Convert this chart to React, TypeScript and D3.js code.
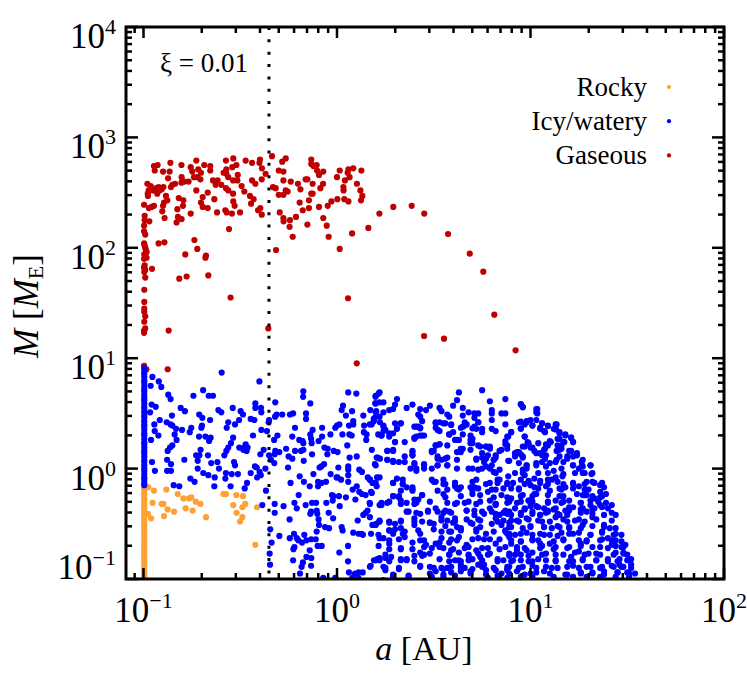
import React from "react";
import * as d3 from "d3";

const WIDTH = 747;
const HEIGHT = 679;
const margin = { top: 27, right: 23, bottom: 100, left: 126 };

// all points as [log10 a (AU), log10 M (Earth masses)]
const gaseous: [number, number][] = [
  [-0.946,2.74],[-0.927,2.75],[-0.942,2.70],[-0.899,2.69],[-0.861,2.77],[-0.865,2.69],[-0.873,2.63],[-0.804,2.75],[-0.756,2.73],[-0.727,2.79],
  [-0.686,2.75],[-0.655,2.74],[-0.655,2.70],[-0.748,2.69],[-0.717,2.71],[-0.703,2.68],[-0.739,2.64],[-0.720,2.64],[-0.706,2.62],[-0.803,2.64],
  [-0.804,2.59],[-0.767,2.60],[-0.789,2.60],[-0.837,2.58],[-0.851,2.57],[-0.858,2.55],[-0.897,2.55],[-0.922,2.55],[-0.906,2.53],[-0.935,2.54],
  [-0.963,2.56],[-0.980,2.58],[-0.973,2.52],[-0.978,2.49],[-0.951,2.52],[-0.929,2.49],[-0.918,2.52],[-0.884,2.47],[-0.877,2.43],[-0.894,2.41],
  [-0.899,2.38],[-0.903,2.33],[-0.891,2.27],[-0.946,2.38],[-0.958,2.37],[-0.972,2.36],[-0.977,2.47],[-0.997,2.39],[-0.994,2.29],[-0.970,2.24],
  [-0.994,2.25],[-0.997,2.20],[-0.997,2.15],[-0.991,2.12],[-0.818,2.45],[-0.794,2.43],[-0.796,2.38],[-0.825,2.35],[-0.822,2.28],[-0.829,2.23],
  [-0.803,2.26],[-0.756,2.31],[-0.727,2.52],[-0.668,2.50],[-0.694,2.46],[-0.703,2.41],[-0.694,2.37],[-0.668,2.36],[-0.634,2.44],[-0.620,2.32],
  [-0.641,2.61],[-0.617,2.61],[-0.627,2.57],[-0.598,2.57],[-0.574,2.54],[-0.562,2.52],[-0.537,2.49],[-0.536,2.42],[-0.529,2.38],[-0.577,2.34],
  [-0.570,2.32],[-0.543,2.31],[-0.501,2.32],[-0.558,2.17],[-0.574,2.79],[-0.536,2.81],[-0.520,2.75],[-0.541,2.73],[-0.572,2.71],[-0.586,2.68],
  [-0.572,2.67],[-0.562,2.64],[-0.537,2.61],[-0.513,2.66],[-0.515,2.61],[-0.493,2.56],[-0.479,2.51],[-0.472,2.79],[-0.439,2.77],[-0.398,2.80],
  [-0.401,2.77],[-0.388,2.72],[-0.369,2.67],[-0.389,2.62],[-0.439,2.61],[-0.422,2.58],[-0.450,2.47],[-0.431,2.44],[-0.444,2.40],[-0.396,2.36],
  [-0.408,2.34],[-0.389,2.30],[-0.336,2.83],[-0.265,2.81],[-0.283,2.78],[-0.301,2.70],[-0.277,2.69],[-0.277,2.61],[-0.239,2.60],[-0.331,2.55],
  [-0.317,2.54],[-0.301,2.48],[-0.277,2.48],[-0.265,2.52],[-0.255,2.51],[-0.296,2.32],[-0.277,2.27],[-0.276,2.24],[-0.243,2.25],[-0.212,2.28],
  [-0.245,2.19],[-0.229,2.10],[-0.193,2.41],[-0.177,2.34],[-0.202,2.58],[-0.189,2.53],[-0.162,2.62],[-0.153,2.62],[-0.133,2.80],[-0.133,2.76],
  [-0.105,2.75],[-0.122,2.74],[-0.103,2.70],[-0.093,2.66],[-0.071,2.69],[-0.126,2.58],[-0.086,2.54],[-0.072,2.58],[-0.133,2.49],[-0.126,2.49],
  [-0.145,2.43],[-0.145,2.36],[-0.093,2.37],[-0.071,2.27],[-0.053,2.20],[-0.043,2.10],[-0.153,2.21],[-0.029,2.42],[-0.048,2.38],[0.002,2.44],
  [0.038,2.44],[0.059,2.42],[0.014,2.70],[0,2.64],[0.041,2.61],[0.065,2.64],[0.059,2.71],[0.055,2.68],[0.084,2.72],[0.126,2.70],[0.103,2.58],
  [0.121,2.52],[0.131,2.47],[0.124,2.43],[0.033,2.55],[0.034,2.52],[0.078,2.13],[0.162,2.18],[0.014,1.99],[0.219,2.31],[0.291,2.37],[0.386,2.38],
  [0.451,2.31],[0.574,2.125],[0.686,1.947],[0.756,1.784],[0.813,1.394],[0.450,1.201],[0.553,1.177],[0.923,1.071],[0.102,0.954],[0.057,1.543],
  [-0.315,1.98],[-0.922,2.04],[-0.892,2.05],[-0.737,2.07],[-0.722,1.99],[-0.784,1.94],[-0.677,1.93],[-0.680,1.91],[-0.665,1.75],[-0.777,1.74],
  [-0.815,1.72],[-0.550,1.55],[-0.870,1.25],[-0.355,1.27],[-0.875,0.90],[-0.956,1.81],
  [-0.997,2.04],[-0.994,2.02],[-0.991,2.00],[-0.988,1.98],[-0.984,1.96],[-0.996,1.94],[-0.984,1.91],[-0.997,1.90],[-0.994,1.84],[-0.997,1.82],
  [-0.991,1.80],[-0.996,1.78],[-0.991,1.73],[-0.996,1.62],[-0.996,1.51],[-0.996,1.45],[-0.996,1.42],[-0.991,1.38],[-0.996,1.33],[-0.991,1.27],
  [-0.997,1.25],[-0.997,1.23],[-0.997,0.93],[-0.985,0.90],
];

const rocky: [number, number][] = [
  [-0.975,-0.17],[-0.946,-0.20],[-0.882,-0.19],[-0.823,-0.23],[-0.794,-0.27],[-0.765,-0.27],[-0.753,-0.26],[-0.730,-0.30],[-0.706,-0.32],
  [-0.587,-0.23],[-0.574,-0.23],[-0.520,-0.24],[-0.486,-0.25],[-0.536,-0.33],[-0.474,-0.32],[-0.489,-0.35],[-0.413,-0.35],[-0.519,-0.40],
  [-0.489,-0.44],[-0.501,-0.48],[-0.422,-0.69],[-0.953,-0.31],[-0.906,-0.32],[-0.897,-0.32],[-0.875,-0.37],[-0.842,-0.39],[-0.782,-0.36],
  [-0.746,-0.38],[-0.894,-0.43],[-0.677,-0.44],[-0.961,-0.45],[-0.977,-0.41],
];

// the pile-up at the inner edge, a = 0.1 AU
const rockyEdge = [-0.17,-0.19,-0.22,-0.24,-0.27,-0.29,-0.32,-0.35,-0.37,-0.40,-0.43,-0.45,-0.48,-0.51,-0.53,-0.56,-0.59,-0.61,-0.64,-0.67,-0.70,-0.72,-0.75,-0.78,-0.81,-0.83,-0.86,-0.89,-0.92,-0.94,-0.97,-0.99,-1.02];
const icyEdge = [0.91,0.88,0.86,0.83,0.80,0.78,0.75,0.72,0.70,0.67,0.64,0.62,0.59,0.56,0.54,0.51,0.48,0.46,0.43,0.40,0.38,0.35,0.32,0.30,0.27,0.24,0.22,0.19,0.16,0.14,0.11,0.08,0.06,0.03,0.0,-0.02,-0.05,-0.08,-0.10,-0.13,-0.15];

const icy: [number, number][] = [
  [-0.954,0.83],[-0.921,0.79],[-0.908,0.74],[-0.963,0.75],[-0.872,0.67],[-0.860,0.63],[-0.596,0.87],[-0.401,0.79],[-0.692,0.71],[-0.742,0.66],[-0.663,0.66],[-0.641,0.66],
  [-0.174,0.70],[-0.175,0.65],[0.058,0.69],[0.100,0.68],[-0.319,0.60],[-0.422,0.59],[-0.422,0.55],[-0.138,0.59],[0.031,0.57],[0.024,0.53],[0.078,0.52],[0.172,0.53],[0.199,0.65],[0.198,0.59],[0.215,0.68],
  [-0.958,0.58],[-0.937,0.56],[-0.966,0.51],[-0.808,0.55],[-0.786,0.52],[-0.853,0.48],[-0.712,0.49],[-0.696,0.46],[-0.613,0.53],[-0.598,0.51],[-0.539,0.55],[-0.498,0.52],[-0.486,0.49],[-0.506,0.44],[-0.446,0.45],[-0.427,0.44],
  [-0.393,0.55],[-0.391,0.51],[-0.312,0.49],[-0.320,0.47],[-0.283,0.49],[-0.243,0.49],[-0.227,0.50],[-0.160,0.50],[0.046,0.48],[0.136,0.48],[0.084,0.43],[0.084,0.40],[0.195,0.46],[0.203,0.52],
  [-0.916,0.44],[-0.944,0.40],[-0.880,0.42],[-0.860,0.40],[-0.851,0.39],[-0.656,0.44],[-0.562,0.42],[-0.527,0.40],[-0.570,0.37],[-0.698,0.39],[-0.701,0.37],[-0.753,0.37],[-0.761,0.33],[-0.832,0.36],[-0.801,0.35],[-0.839,0.31],
  [-0.351,0.44],[-0.353,0.42],[-0.391,0.35],[-0.362,0.34],[-0.217,0.37],[-0.160,0.45],[-0.077,0.37],[-0.126,0.35],[-0.138,0.31],[-0.009,0.37],[0.012,0.40],[0,0.39],[0.062,0.39],[0.140,0.39],[0.179,0.40],[0.222,0.42],[0.139,0.33],[0.153,0.31],[0.064,0.31],
  [-0.923,0.30],[-0.942,0.34],[-0.961,0.26],[-0.829,0.26],[-0.713,0.29],[-0.680,0.29],[-0.653,0.28],[-0.661,0.25],[-0.537,0.28],[-0.548,0.23],[-0.434,0.30],[-0.308,0.30],[-0.325,0.26],[-0.231,0.29],[-0.195,0.26],[-0.178,0.25],[-0.174,0.23],[-0.134,0.27],[-0.131,0.23],[-0.077,0.29],[-0.095,0.25],[-0.034,0.31],[0.028,0.31],[0.076,0.30],[0.151,0.26],[0.213,0.31],
  [-0.851,0.21],[-0.863,0.19],[-0.875,0.16],[-0.705,0.17],[-0.562,0.19],[-0.572,0.16],[-0.582,0.12],[-0.505,0.19],[-0.472,0.22],[-0.479,0.19],[-0.462,0.19],[-0.484,0.17],[-0.467,0.16],[-0.379,0.17],[-0.319,0.16],[-0.322,0.13],[-0.298,0.15],[-0.263,0.18],[-0.217,0.16],[-0.186,0.16],[-0.174,0.17],[-0.129,0.13],[-0.065,0.19],[-0.048,0.18],[-0.050,0.13],[-0.017,0.16],[0.003,0.15],[0.053,0.21],
  [-0.728,0.12],[-0.711,0.12],[-0.667,0.12],[-0.396,0.13],[-0.351,0.12],[-0.341,0.08],[-0.250,0.11],[-0.231,0.09],[-0.172,0.07],[0.065,0.10],[0.102,0.11],[0.205,0.10],[0.222,0.09],
  [-0.956,0.06],[-0.878,0.08],[-0.858,0.04],[-0.789,0.08],[-0.720,0.07],[-0.650,0.05],[-0.618,0.06],[-0.532,0.06],[-0.527,0.03],[-0.324,0.05],[-0.424,0.02],[-0.415,0.01],[-0.067,0.04],[-0.081,0.02],[-0.090,0.01],[0.007,0.01],[-0.253,0.01],[0.058,0.02],[0.058,-0.01],[0.196,0.04],
  [-0.941,-0.02],[-0.878,-0.02],[-0.858,-0.02],[-0.720,0],[-0.610,0],[-0.370,0],[-0.400,-0.03],[-0.691,-0.04],[-0.665,-0.06],[-0.574,-0.04],[-0.544,-0.05],[-0.512,-0.05],[-0.446,-0.04],[-0.413,-0.08],[-0.394,-0.06],[-0.122,-0.05],[-0.033,-0.05],[0.058,-0.06],[0.115,-0.01],[0.129,-0.03],[0.207,-0.08],
  [-0.758,-0.09],[-0.736,-0.12],[-0.632,-0.08],[-0.577,-0.09],[-0.465,-0.13],[-0.193,-0.07],[-0.002,-0.08],[0.002,-0.08],[0.021,-0.10],[0.058,-0.12],[0.159,-0.08],[0.171,-0.10],[0.183,-0.13],
  [-0.844,-0.15],[-0.815,-0.16],[-0.634,-0.16],[-0.550,-0.16],[-0.477,-0.18],[-0.240,-0.13],[-0.171,-0.12],[-0.141,-0.16],[-0.098,-0.12],[-0.081,-0.13],[-0.057,-0.12],[-0.098,-0.16],[0.102,-0.16],[0.081,-0.19],[0.115,-0.21],[0.129,-0.23],[0.148,-0.24],[0.176,-0.21],[0.205,-0.16],
  [-0.367,-0.20],[-0.198,-0.24],[-0.026,-0.24],[-0.019,-0.25],[0.010,-0.25],[0.046,-0.26],[0.095,-0.28],[0.169,-0.31],[0.220,-0.33],
  [-0.386,-0.33],[-0.322,-0.32],[-0.276,-0.34],[-0.220,-0.31],[-0.208,-0.36],[-0.162,-0.33],[-0.129,-0.31],[-0.108,-0.31],[-0.055,-0.31],[-0.022,-0.29],[0.014,-0.34],
  [-0.322,-0.40],[-0.138,-0.41],[-0.105,-0.38],[-0.102,-0.41],[-0.043,-0.40],[-0.134,-0.39],[-0.020,-0.45],[-0.095,-0.46],[0.158,-0.38],[0.148,-0.40],[0.136,-0.42],[0.107,-0.47],
  [-0.245,-0.46],[-0.345,-0.55],[-0.093,-0.51],[-0.062,-0.53],[-0.041,-0.54],[0.024,-0.53],[0.029,-0.56],[0.183,-0.51],[0.202,-0.50],[0.219,-0.48],
  [-0.298,-0.61],[-0.222,-0.59],[-0.208,-0.63],[-0.244,-0.63],[-0.169,-0.60],[-0.158,-0.65],[-0.181,-0.67],[-0.200,-0.65],[-0.133,-0.64],[-0.110,-0.64],[-0.105,-0.57],[0.084,-0.58],[0.112,-0.59],[0.127,-0.59],[0.134,-0.60],[0.176,-0.59],[0.214,-0.60],
  [-0.338,-0.67],[-0.348,-0.77],[-0.220,-0.71],[-0.225,-0.73],[-0.100,-0.70],[-0.079,-0.70],[-0.141,-0.74],[0.057,-0.70],[0.012,-0.76],[0.215,-0.70],
  [-0.346,-0.87],[-0.227,-0.83],[-0.158,-0.80],[-0.133,-0.81],[-0.176,-0.85],[-0.183,-0.89],[-0.134,-0.88],[0.057,-0.84],[0.191,-0.83],[0.209,-0.82],[0.174,-0.88],
  [-0.191,-0.95],[-0.071,-0.99],[-0.009,-0.99],[0.062,-0.94],[0.093,-0.95],[0.112,-0.94],[0.133,-0.94],[0.079,-0.99],[0.110,-0.99],
  [0.22,0.69],[0.20,0.66],[0.63,0.69],[0.75,0.71],[0.31,0.63],[0.62,0.62],[0.79,0.61],[0.87,0.63],[0.95,0.58],[0.96,0.56],[0.20,0.59],[0.24,0.60],[0.22,0.60],[0.30,0.58],
  [0.39,0.58],[0.36,0.55],[0.48,0.57],[0.60,0.57],[0.53,0.55],[0.65,0.55],[1.03,0.54],[0.43,0.54],[0.46,0.53],[0.29,0.54],[0.27,0.53],[0.20,0.51],[0.24,0.51],[0.54,0.52],
  [0.68,0.51],[0.73,0.50],[0.71,0.50],[0.80,0.53],[0.80,0.50],[0.87,0.50],[0.85,0.50],[1.03,0.51],[0.42,0.49],[0.57,0.49],[0.43,0.47],[0.58,0.47],[0.65,0.48],[0.71,0.46],
  [0.22,0.47],[0.19,0.45],[0.19,0.43],[0.17,0.40],[0.33,0.41],[0.30,0.41],[0.44,0.43],[0.51,0.42],[0.53,0.42],[0.55,0.41],[0.59,0.40],[0.66,0.42],[0.73,0.42],[0.80,0.44],
  [0.87,0.40],[0.94,0.42],[0.97,0.40],[0.98,0.43],[1.06,0.41],[0.24,0.39],[0.40,0.38],[0.42,0.38],[0.51,0.37],[0.53,0.34],[0.60,0.33],[0.64,0.37],[0.66,0.39],[0.72,0.36],
  [0.75,0.36],[0.95,0.36],[1.01,0.39],[1.05,0.36],[1.09,0.39],[1.13,0.40],[1.13,0.36],[0.24,0.34],[0.29,0.32],[0.31,0.36],[0.43,0.37],[0.43,0.30],[0.45,0.30],[0.41,0.29],
  [0.40,0.27],[0.58,0.31],[0.75,0.33],[0.80,0.36],[0.82,0.34],[0.90,0.33],[0.88,0.29],[1.07,0.34],[1.12,0.36],[1.15,0.33],[1.18,0.31],[1.21,0.28],[0.23,0.30],[0.27,0.29],
  [0.97,0.29],[0.69,0.30],[0.69,0.26],[0.70,0.23],[0.61,0.26],[0.63,0.26],[0.87,0.25],[0.30,0.24],[0.35,0.24],[0.87,0.22],[0.88,0.18],[0.99,0.23],[0.97,0.20],[1.10,0.25],
  [1.08,0.22],[1.15,0.27],[1.17,0.24],[1.22,0.24],[1.14,0.21],[1.16,0.18],[0.18,0.17],[0.26,0.16],[0.29,0.16],[0.39,0.16],[0.39,0.12],[0.53,0.22],[0.51,0.21],[0.50,0.16],
  [0.49,0.15],[0.65,0.18],[0.64,0.15],[0.69,0.17],[0.74,0.20],[0.77,0.20],[0.79,0.18],[0.84,0.16],[0.93,0.15],[0.95,0.13],[1.00,0.19],[1.02,0.16],[1.05,0.14],[1.07,0.17],
  [1.06,0.12],[1.21,0.16],[1.24,0.12],[0.21,0.10],[0.26,0.08],[0.29,0.06],[0.35,0.06],[0.52,0.09],[0.54,0.08],[0.57,0.10],[0.62,0.08],[0.72,0.08],[0.75,0.10],[0.78,0.12],
  [0.82,0.10],[0.81,0.08],[0.89,0.07],[0.96,0.10],[0.92,0.11],[1.15,0.11],[1.19,0.11],[1.27,0.08],[1.22,0.03],[0.20,0.03],[0.40,0.04],[0.45,0.03],[0.45,0.0],[0.52,0.03],
  [0.76,0.06],[0.77,0.02],[0.79,0.0],[0.98,0.03],[1.03,0.03],[1.08,0.02],[1.13,0.06],[1.17,0.06],[1.27,0.02],[1.31,0.03],[1.25,0.0],[0.38,0.0],[0.41,-0.02],[0.57,0.03],
  [0.62,0.0],[0.68,0.0],[0.75,0.0],[0.81,-0.03],[0.84,-0.01],[0.96,-0.04],[0.98,-0.0],[1.04,-0.04],[1.09,-0.04],[1.12,-0.02],[1.16,-0.0],[1.17,-0.05],[1.32,-0.04],[1.27,-0.04],
  [0.22,-0.08],[0.17,-0.10],[0.31,-0.09],[0.34,-0.10],[0.49,-0.10],[0.51,-0.12],[0.55,-0.10],[0.56,-0.14],[0.61,-0.13],[0.72,-0.10],[0.84,-0.10],[0.95,-0.10],[0.99,-0.11],
  [1.05,-0.11],[1.11,-0.10],[1.17,-0.14],[1.29,-0.12],[1.36,-0.15],[1.33,-0.13],[1.22,-0.14],[0.20,-0.13],[0.29,-0.13],[0.34,-0.14],[0.36,-0.17],[0.39,-0.17],[0.39,-0.20],
  [0.61,-0.16],[0.64,-0.17],[0.69,-0.17],[0.71,-0.17],[0.79,-0.13],[0.88,-0.14],[0.91,-0.13],[0.94,-0.18],[1.00,-0.15],[1.08,-0.16],[1.15,-0.18],[1.25,-0.16],[1.36,-0.21],
  [1.30,-0.19],[1.29,-0.24],[0.18,-0.22],[0.29,-0.25],[0.32,-0.25],[0.33,-0.20],[0.44,-0.24],[0.40,-0.28],[0.57,-0.19],[0.55,-0.23],[0.63,-0.19],[0.70,-0.23],[0.73,-0.18],
  [0.78,-0.21],[0.80,-0.19],[0.85,-0.24],[0.90,-0.27],[0.95,-0.25],[1.02,-0.23],[1.10,-0.20],[1.17,-0.25],[1.27,-0.24],[1.37,-0.25],[1.33,-0.27],[0.17,-0.32],[0.33,-0.29],
  [0.23,-0.33],[0.26,-0.31],[0.36,-0.31],[0.42,-0.28],[0.57,-0.31],[0.62,-0.31],[0.68,-0.30],[0.72,-0.32],[0.79,-0.29],[0.82,-0.32],[0.88,-0.26],[0.95,-0.30],[0.99,-0.29],
  [1.03,-0.34],[1.09,-0.30],[1.16,-0.31],[1.20,-0.29],[1.26,-0.31],[1.31,-0.33],[1.36,-0.26],[1.42,-0.33],[0.40,-0.32],[0.47,-0.39],[0.51,-0.36],[0.56,-0.38],[0.67,-0.38],
  [0.71,-0.38],[0.79,-0.36],[0.82,-0.33],[0.86,-0.40],[0.97,-0.36],[1.00,-0.34],[1.09,-0.38],[1.13,-0.36],[1.18,-0.38],[1.22,-0.35],[1.26,-0.37],[1.33,-0.36],[1.36,-0.33],
  [0.37,-0.39],[0.43,-0.41],[0.55,-0.40],[0.58,-0.39],[0.71,-0.42],[0.76,-0.41],[0.80,-0.39],[0.84,-0.42],[0.89,-0.39],[0.95,-0.42],[1.01,-0.39],[1.05,-0.42],[1.09,-0.39],[1.15,-0.42],[1.20,-0.38],
  [1.29,-0.39],[1.44,-0.42],[0.17,-0.44],[0.40,-0.45],[0.44,-0.48],[0.48,-0.49],[0.54,-0.44],[0.57,-0.47],[0.61,-0.45],[0.67,-0.46],[0.73,-0.46],[0.82,-0.45],[0.86,-0.47],[0.93,-0.47],[0.98,-0.45],
  [1.06,-0.48],[1.13,-0.44],[1.19,-0.48],[1.25,-0.46],[1.32,-0.44],[1.38,-0.51],[0.20,-0.51],[0.22,-0.47],[0.27,-0.48],[0.30,-0.50],[0.33,-0.48],[0.40,-0.51],[0.50,-0.50],[0.56,-0.52],[0.60,-0.49],[0.62,-0.53],
  [0.70,-0.50],[0.74,-0.53],[0.80,-0.50],[0.85,-0.51],[0.90,-0.53],[1.00,-0.53],[1.07,-0.53],[1.15,-0.53],[1.20,-0.54],[1.27,-0.51],[1.41,-0.54],[0.27,-0.56],[0.29,-0.59],[0.33,-0.54],[0.34,-0.59],[0.43,-0.59],
  [0.54,-0.57],[0.59,-0.57],[0.64,-0.54],[0.72,-0.57],[0.77,-0.59],[0.87,-0.57],[0.89,-0.59],[0.95,-0.59],[1.01,-0.60],[1.07,-0.60],[1.14,-0.61],[1.20,-0.59],[1.25,-0.58],[1.31,-0.60],[1.37,-0.57],[1.43,-0.60],[1.47,-0.60],
  [0.24,-0.63],[0.27,-0.65],[0.43,-0.65],[0.45,-0.65],[0.53,-0.67],[0.62,-0.65],[0.70,-0.64],[0.76,-0.64],[0.84,-0.64],[0.90,-0.68],[0.95,-0.66],[1.01,-0.65],[1.05,-0.68],[1.10,-0.68],[1.17,-0.65],[1.26,-0.68],
  [1.29,-0.65],[1.36,-0.65],[1.40,-0.63],[1.44,-0.65],[1.47,-0.71],[0.27,-0.73],[0.33,-0.73],[0.49,-0.72],[0.53,-0.71],[0.59,-0.74],[0.66,-0.72],[0.72,-0.74],[0.78,-0.72],[0.87,-0.71],[0.93,-0.74],[0.98,-0.74],[1.05,-0.72],
  [1.12,-0.73],[1.20,-0.71],[1.25,-0.75],[1.36,-0.71],[1.42,-0.69],[1.49,-0.69],[1.48,-0.76],[0.45,-0.78],[0.43,-0.76],[0.40,-0.79],[0.58,-0.78],[0.63,-0.76],[0.68,-0.78],[0.74,-0.80],[0.79,-0.77],[0.92,-0.78],[0.99,-0.79],
  [1.06,-0.78],[1.13,-0.78],[1.21,-0.80],[1.28,-0.78],[1.34,-0.77],[1.43,-0.78],[1.50,-0.78],[1.52,-0.82],[0.20,-0.83],[0.22,-0.81],[0.25,-0.81],[0.28,-0.80],[0.33,-0.83],[0.36,-0.82],[0.58,-0.84],[0.63,-0.83],[0.68,-0.83],
  [0.83,-0.82],[0.86,-0.83],[0.90,-0.84],[0.95,-0.83],[1.01,-0.84],[1.08,-0.83],[1.13,-0.84],[1.22,-0.84],[1.27,-0.83],[1.34,-0.83],[1.40,-0.82],[1.45,-0.84],[1.50,-0.83],[1.46,-0.87],
  [0.43,-0.88],[0.17,-0.89],[0.24,-0.89],[0.25,-0.92],[0.32,-0.90],[0.48,-0.89],[0.54,-0.90],[0.57,-0.90],[0.64,-0.87],[0.66,-0.90],[0.73,-0.87],[0.76,-0.87],[0.82,-0.92],[0.89,-0.89],[0.96,-0.89],
  [1.03,-0.90],[1.11,-0.90],[1.19,-0.89],[1.25,-0.90],[1.31,-0.89],[1.37,-0.89],[1.43,-0.89],[1.48,-0.89],[1.52,-0.87],
  [0.51,-0.93],[0.49,-0.98],[0.59,-0.94],[0.64,-0.93],[0.69,-0.93],[0.77,-0.92],[0.85,-0.95],[0.88,-0.92],[0.93,-0.93],[1.00,-0.95],[1.07,-0.93],[1.19,-0.96],[1.26,-0.95],[1.32,-0.94],[1.38,-0.93],[1.45,-0.94],[1.50,-0.94],[1.54,-0.95],
  [0.29,-0.98],[0.37,-0.98],[0.55,-0.98],[0.24,-1.01],[0.78,-0.99],[0.88,-0.99],[0.95,-0.98],[1.01,-0.98],[1.12,-0.98],[1.22,-0.98],[1.29,-0.98],[1.36,-0.98],[1.44,-0.98],[1.51,-0.98],
];

// second pass over the crowded part, 2 AU outwards below about 1 Earth mass
const icyCrowded: [number, number][] = [
  [0.29,-0.13],[0.34,-0.14],[0.50,-0.12],[0.55,-0.14],[0.61,-0.13],[0.70,-0.12],[0.77,-0.14],[0.83,-0.13],
  [0.39,-0.19],[0.52,-0.20],[0.62,-0.18],[0.70,-0.20],[0.82,-0.19],[0.86,-0.18],
  [0.29,-0.25],[0.32,-0.26],[0.44,-0.24],[0.56,-0.26],[0.64,-0.25],[0.74,-0.24],[0.81,-0.26],
  [0.23,-0.31],[0.27,-0.30],[0.33,-0.32],[0.41,-0.31],[0.48,-0.30],[0.61,-0.32],[0.66,-0.31],[0.74,-0.30],[0.82,-0.32],[0.88,-0.31],
  [0.36,-0.39],[0.41,-0.40],[0.47,-0.38],[0.52,-0.39],[0.59,-0.40],[0.67,-0.38],[0.75,-0.39],[0.82,-0.41],[0.87,-0.38],
  [0.22,-0.48],[0.27,-0.49],[0.33,-0.47],[0.40,-0.48],[0.48,-0.49],[0.54,-0.47],[0.61,-0.48],[0.69,-0.49],[0.74,-0.47],[0.83,-0.48],[0.89,-0.49],
  [0.27,-0.56],[0.30,-0.55],[0.35,-0.57],[0.42,-0.56],[0.50,-0.55],[0.58,-0.57],[0.64,-0.56],[0.72,-0.55],[0.81,-0.57],[0.87,-0.56],
  [0.22,-0.63],[0.32,-0.64],[0.35,-0.62],[0.54,-0.63],[0.59,-0.64],[0.63,-0.62],[0.73,-0.63],[0.79,-0.64],[0.89,-0.62],
  [0.27,-0.68],[0.39,-0.67],[0.46,-0.69],[0.51,-0.68],[0.58,-0.67],[0.67,-0.69],[0.82,-0.68],
  [0.33,-0.72],[0.39,-0.73],[0.45,-0.71],[0.55,-0.72],[0.60,-0.73],[0.68,-0.71],[0.75,-0.72],[0.84,-0.73],
  [0.25,-0.78],[0.44,-0.79],[0.48,-0.77],[0.58,-0.78],[0.68,-0.79],[0.73,-0.77],[0.78,-0.78],[0.89,-0.79],
  [0.22,-0.83],[0.27,-0.84],[0.33,-0.82],[0.36,-0.83],[0.40,-0.84],[0.53,-0.82],[0.61,-0.83],[0.64,-0.84],[0.70,-0.82],[0.75,-0.83],[0.83,-0.84],
  [0.25,-0.90],[0.32,-0.91],[0.43,-0.89],[0.50,-0.90],[0.55,-0.91],[0.59,-0.89],[0.64,-0.90],[0.70,-0.91],[0.75,-0.89],[0.81,-0.90],[0.88,-0.91],
  [0.29,-0.96],[0.37,-0.97],[0.48,-0.95],[0.55,-0.96],[0.61,-0.97],[0.69,-0.95],[0.77,-0.96],[0.83,-0.97],
  [0.88,-0.13],[0.97,-0.14],[0.99,-0.12],[1.05,-0.13],[1.09,-0.14],[1.14,-0.12],[1.22,-0.13],[1.28,-0.14],[1.32,-0.12],[1.37,-0.13],
  [0.90,-0.18],[0.94,-0.19],[1.02,-0.17],[1.04,-0.18],[1.16,-0.19],[1.18,-0.17],[1.22,-0.18],[1.28,-0.19],[1.38,-0.17],
  [0.96,-0.24],[1.01,-0.25],[1.03,-0.23],[1.09,-0.24],[1.15,-0.25],[1.24,-0.23],[1.28,-0.24],[1.32,-0.25],[1.39,-0.23],
  [0.89,-0.30],[0.93,-0.31],[0.99,-0.29],[1.01,-0.30],[1.09,-0.31],[1.13,-0.29],[1.17,-0.30],[1.26,-0.31],[1.31,-0.29],[1.35,-0.30],[1.39,-0.31],
  [0.92,-0.36],[0.97,-0.37],[1.04,-0.35],[1.07,-0.36],[1.12,-0.37],[1.20,-0.35],[1.27,-0.36],[1.32,-0.37],[1.37,-0.35],[1.40,-0.36],
  [0.88,-0.41],[0.90,-0.42],[0.95,-0.40],[1.01,-0.41],[1.05,-0.42],[1.08,-0.40],[1.14,-0.41],[1.19,-0.42],[1.26,-0.40],[1.32,-0.41],[1.38,-0.42],[1.42,-0.40],
  [0.90,-0.47],[0.94,-0.48],[0.99,-0.46],[1.04,-0.47],[1.10,-0.48],[1.17,-0.46],[1.23,-0.47],[1.28,-0.48],[1.34,-0.46],[1.42,-0.47],
  [0.89,-0.53],[0.96,-0.54],[1.00,-0.52],[1.07,-0.53],[1.11,-0.54],[1.14,-0.52],[1.20,-0.53],[1.26,-0.54],[1.32,-0.52],[1.38,-0.53],[1.44,-0.54],
  [0.88,-0.59],[0.92,-0.60],[0.98,-0.58],[1.05,-0.59],[1.10,-0.60],[1.16,-0.58],[1.22,-0.59],[1.31,-0.60],[1.37,-0.58],[1.44,-0.59],
  [0.90,-0.65],[0.95,-0.66],[1.01,-0.64],[1.04,-0.65],[1.12,-0.66],[1.17,-0.64],[1.25,-0.65],[1.29,-0.66],[1.37,-0.64],[1.42,-0.65],[1.47,-0.66],
  [0.93,-0.71],[0.97,-0.72],[1.06,-0.70],[1.13,-0.71],[1.19,-0.72],[1.26,-0.70],[1.32,-0.71],[1.40,-0.72],[1.44,-0.70],[1.48,-0.71],
  [0.89,-0.77],[0.95,-0.78],[1.01,-0.76],[1.08,-0.77],[1.17,-0.78],[1.23,-0.76],[1.30,-0.77],[1.36,-0.78],[1.44,-0.76],[1.48,-0.77],
  [0.91,-0.83],[0.99,-0.84],[1.04,-0.82],[1.13,-0.83],[1.20,-0.84],[1.27,-0.82],[1.34,-0.83],[1.40,-0.84],[1.46,-0.82],[1.51,-0.83],
  [0.88,-0.89],[0.94,-0.90],[1.01,-0.88],[1.08,-0.89],[1.14,-0.90],[1.22,-0.88],[1.29,-0.89],[1.36,-0.90],[1.42,-0.88],[1.47,-0.89],[1.52,-0.90],
  [0.89,-0.95],[0.97,-0.96],[1.03,-0.94],[1.10,-0.95],[1.18,-0.96],[1.26,-0.94],[1.32,-0.95],[1.38,-0.96],[1.45,-0.94],[1.51,-0.95],
];

// the strands between 2 and 20 AU above about 1 Earth mass
const icyUpper: [number, number][] = [
  [0.41,0.38],[0.43,0.365],[0.40,0.28],[0.44,0.30],[0.51,0.41],[0.52,0.35],[0.56,0.41],[0.59,0.395],[0.65,0.38],[0.67,0.40],[0.70,0.365],[0.71,0.38],
  [0.73,0.42],[0.65,0.31],[0.58,0.31],[0.62,0.26],[0.70,0.27],[0.69,0.23],[0.51,0.21],[0.49,0.16],[0.53,0.22],[0.57,0.21],[0.64,0.18],[0.62,0.15],
  [0.73,0.21],[0.77,0.20],[0.79,0.20],[0.75,0.14],[0.72,0.09],[0.77,0.09],[0.81,0.08],[0.82,0.12],[0.85,0.17],[0.80,0.03],[0.82,-0.04],[0.83,-0.10],
  [0.70,0.0],[0.73,-0.01],[0.57,0.03],[0.52,0.03],[0.49,0.0],[0.45,0.04],[0.40,0.05],[0.41,0.0],[0.52,0.11],[0.56,0.09],[0.29,0.17],[0.30,0.24],
  [0.26,0.16],[0.26,0.08],[0.29,0.07],[0.32,0.06],[0.35,0.11],[0.39,0.15],[0.39,0.12],[0.27,0.32],[0.31,0.365],[0.33,0.41],[0.24,0.38],[0.25,0.35],[0.23,0.30],
  [0.95,0.585],[0.96,0.555],[1.035,0.54],[1.035,0.50],[1.03,0.44],[1.0,0.44],[0.98,0.42],[1.01,0.39],[0.95,0.425],[0.95,0.365],[1.06,0.41],[1.09,0.385],
  [1.05,0.37],[1.075,0.33],[1.135,0.40],[1.13,0.355],[1.15,0.32],[1.18,0.30],[1.21,0.28],[1.22,0.24],[1.14,0.27],[1.175,0.24],[1.16,0.21],[1.105,0.24],
  [1.075,0.18],[1.09,0.21],[1.135,0.16],[1.15,0.17],[1.20,0.16],[1.24,0.14],[1.22,0.11],[1.04,0.23],[1.01,0.19],[1.03,0.14],[0.985,0.24],[0.96,0.20],
  [0.97,0.29],[0.90,0.33],[0.885,0.29],[0.88,0.21],[0.92,0.14],[0.94,0.15],[0.96,0.11],[0.885,0.07],[0.94,0.05],[0.98,0.03],[0.96,-0.01],[1.03,0.05],
  [1.06,0.06],[1.08,0.12],[1.075,0.09],[1.10,0.05],[1.135,0.08],[1.19,0.09],[1.22,0.03],[1.265,0.06],[1.265,0.02],[1.31,0.03],[1.28,-0.04],[1.315,-0.05],
  [1.23,-0.04],[0.92,-0.04],[0.885,-0.07],[0.97,-0.06],[1.02,-0.09],[1.09,-0.10],[1.13,-0.08],[1.165,-0.07],
];

const legendLabels = ["Rocky", "Icy/watery", "Gaseous"];
const xTickExponents = [-1, 0, 1, 2];
const yTickExponents = [-1, 0, 1, 2, 3, 4];
const XI = 0.01;
const ICE_LINE_A = 0.445;
const A_MIN = 0.0812;

const ROCKY_COLOR = "#ffa033";
const ICY_COLOR = "#0000ff";
const GAS_COLOR = "#bf0000";
const EDGE_LOG_A = -0.996;

const FONT = "'Liberation Serif', serif";

export default function App() {
  const plotW = WIDTH - margin.left - margin.right;
  const plotH = HEIGHT - margin.top - margin.bottom;
  const x = d3.scaleLog().domain([A_MIN, 100]).range([margin.left, margin.left + plotW]);
  const y = d3.scaleLog().domain([0.1, 10000]).range([margin.top + plotH, margin.top]);

  const isMajor = (v: number) => Math.abs(Math.log10(v) - Math.round(Math.log10(v))) < 1e-6;
  const left = margin.left;
  const right = margin.left + plotW;
  const top = margin.top;
  const bottom = margin.top + plotH;

  const dots = (pts: [number, number][], color: string) =>
    pts.map((p, i) => (
      <circle key={i} cx={x(10 ** p[0])} cy={y(10 ** p[1])} r={3.1} fill={color} />
    ));

  const edge = (vals: number[]): [number, number][] => vals.map((m) => [EDGE_LOG_A, m]);

  return (
    <svg width={WIDTH} height={HEIGHT} style={{ position: "absolute", left: 0, top: 0 }} fontFamily={FONT}>
      <defs>
        <clipPath id="plot">
          <rect x={left} y={top} width={plotW} height={plotH} />
        </clipPath>
      </defs>
      <rect width={WIDTH} height={HEIGHT} fill="#fff" />

      <g clipPath="url(#plot)">
        {dots(gaseous, GAS_COLOR)}
        {dots(rocky, ROCKY_COLOR)}
        {dots(edge(rockyEdge), ROCKY_COLOR)}
        {dots(icy, ICY_COLOR)}
        {dots(icyCrowded, ICY_COLOR)}
        {dots(icyUpper, ICY_COLOR)}
        {dots(edge(icyEdge), ICY_COLOR)}
      </g>

      <line
        x1={x(ICE_LINE_A)}
        x2={x(ICE_LINE_A)}
        y1={top}
        y2={bottom}
        stroke="#000"
        strokeWidth={3}
        strokeDasharray="3 9.35"
      />

      {/* ticks on all four sides */}
      {x.ticks().map((t, i) => {
        const len = isMajor(t) ? 11 : 6;
        return (
          <g key={i} stroke="#000" strokeWidth={2.5}>
            <line x1={x(t)} x2={x(t)} y1={bottom} y2={bottom - len} />
            <line x1={x(t)} x2={x(t)} y1={top} y2={top + len} />
          </g>
        );
      })}
      {y.ticks().map((t, i) => {
        const len = isMajor(t) ? 12 : 6;
        return (
          <g key={i} stroke="#000" strokeWidth={2.5}>
            <line x1={left} x2={left + len} y1={y(t)} y2={y(t)} />
            <line x1={right} x2={right - len} y1={y(t)} y2={y(t)} />
          </g>
        );
      })}
      <rect x={left} y={top} width={plotW} height={plotH} fill="none" stroke="#000" strokeWidth={3} />

      {xTickExponents.map((e) => (
        <text key={e} x={x(10 ** e)} y={622} textAnchor="middle" fontSize={35}>
          10
          <tspan dy={-14} fontSize={22}>
            {e < 0 ? "\u2212" + Math.abs(e) : e}
          </tspan>
        </text>
      ))}
      {yTickExponents.map((e) => (
        <text key={e} x={116} y={e === -1 ? 579 : y(10 ** e) + 21} textAnchor="end" fontSize={35}>
          10
          <tspan dy={-14} fontSize={22}>
            {e < 0 ? "\u2212" + Math.abs(e) : e}
          </tspan>
        </text>
      ))}

      <text x={424} y={660} textAnchor="middle" fontSize={34}>
        <tspan fontStyle="italic">a</tspan> [AU]
      </text>
      <text transform="translate(38,306) rotate(-90)" textAnchor="middle" fontSize={35}>
        <tspan fontStyle="italic">M</tspan> [<tspan fontStyle="italic">M</tspan>
        <tspan dy={5} fontSize={22}>E</tspan>
        <tspan dy={-5}>]</tspan>
      </text>

      <text x={160} y={72} fontSize={27}>
        ξ = {XI}
      </text>

      {legendLabels.map((label, i) => (
        <g key={label}>
          <text x={647} y={96 + i * 34} textAnchor="end" fontSize={27}>
            {label}
          </text>
          <circle cx={669} cy={87 + i * 34.2} r={2.1} fill={[ROCKY_COLOR, ICY_COLOR, GAS_COLOR][i]} />
        </g>
      ))}
    </svg>
  );
}
